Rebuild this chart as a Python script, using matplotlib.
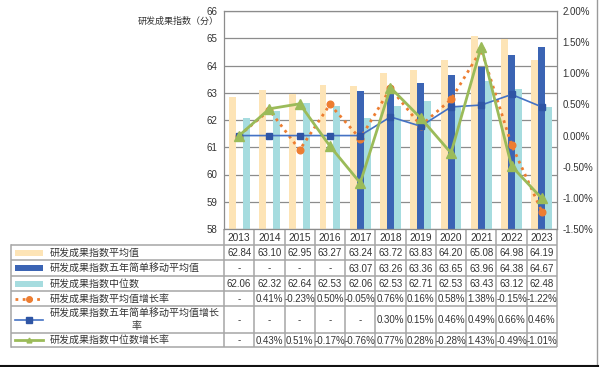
import matplotlib
matplotlib.use("Agg")
import matplotlib.pyplot as plt
import matplotlib.transforms as mtransforms
from matplotlib.lines import Line2D
import numpy as np

plt.rcParams['font.family'] = ['Liberation Sans', 'Noto Sans CJK SC', 'DejaVu Sans']

years = ['2013', '2014', '2015', '2016', '2017', '2018', '2019', '2020', '2021', '2022', '2023']
avg_vals = [62.84, 63.10, 62.95, 63.27, 63.24, 63.72, 63.83, 64.20, 65.08, 64.98, 64.19]
ma_vals = [None, None, None, None, 63.07, 63.26, 63.36, 63.65, 63.96, 64.38, 64.67]
med_vals = [62.06, 62.32, 62.64, 62.53, 62.06, 62.53, 62.71, 62.53, 63.43, 63.12, 62.48]
avg_rate = [None, 0.41, -0.23, 0.50, -0.05, 0.76, 0.16, 0.58, 1.38, -0.15, -1.22]
ma_rate = [None, None, None, None, None, 0.30, 0.15, 0.46, 0.49, 0.66, 0.46]
med_rate = [None, 0.43, 0.51, -0.17, -0.76, 0.77, 0.28, -0.28, 1.43, -0.49, -1.01]

row_labels = ['研发成果指数平均值', '研发成果指数五年简单移动平均值', '研发成果指数中位数',
              '研发成果指数平均值增长率', '研发成果指数五年简单移动平均值增长\n率', '研发成果指数中位数增长率']
y_label = '研发成果指数（分）'
left_ticks = [58, 59, 60, 61, 62, 63, 64, 65, 66]
right_ticks = [-1.5, -1.0, -0.5, 0.0, 0.5, 1.0, 1.5, 2.0]

c_avg = '#FDE4B6'
c_ma = '#3B64B4'
c_med = '#A6DCDF'
c_orange = '#ED7D31'
c_blue = '#4472C4'
c_blue_m = '#2F55A4'
c_green = '#9BBB59'
grid_c = '#8C8C8C'
tab_c = '#A6A6A6'
txt_c = '#333333'

W, H = 600, 367
fig = plt.figure(figsize=(6.0, 3.67), dpi=100)

def fx(px):
    return px / W

def fy(py):
    return 1 - py / H

L, R, T, B = 224, 557, 11, 229
ax = fig.add_axes([fx(L), fy(B), fx(R) - fx(L), fy(T) - fy(B)])
n = len(years)
x = np.arange(n)
bw = 0.23

def nz(v):
    return [np.nan if a is None else a for a in v]

bottom = 58
ax.bar(x - bw, np.array(avg_vals) - bottom, bw, bottom=bottom, color=c_avg, zorder=2)
ax.bar(x, np.array(nz(ma_vals)) - bottom, bw, bottom=bottom, color=c_ma, zorder=2)
ax.bar(x + bw, np.array(med_vals) - bottom, bw, bottom=bottom, color=c_med, zorder=2)
ax.set_xlim(-0.5, n - 0.5)
ax.set_ylim(58, 66)
ax.set_yticks(left_ticks)
ax.set_yticklabels([str(t) for t in left_ticks], fontsize=7, color=txt_c)
ax.tick_params(axis='y', length=0, pad=5)
ax.grid(axis='y', color=grid_c, linewidth=0.9, zorder=0)
ax.set_axisbelow(True)
ax.set_xticks(x)
ax.set_xticklabels(years, fontsize=7.3, color=txt_c)
ax.tick_params(axis='x', length=0, pad=3)
for s in ax.spines.values():
    s.set_color(grid_c)
    s.set_linewidth(0.9)

ax2 = ax.twinx()
ax2.set_ylim(-1.5, 2.0)
ax2.set_yticks(right_ticks)
ax2.set_yticklabels(['%.2f%%' % t for t in right_ticks], fontsize=7, color=txt_c)
ax2.tick_params(axis='y', length=0, pad=4)
for s in ax2.spines.values():
    s.set_visible(False)

def z0(v):
    return [0.0 if a is None else a for a in v]

ax2.plot(x, z0(avg_rate), color=c_orange, linestyle=(0, (1, 1.6)), linewidth=2.0,
         marker='o', markersize=4.8, markerfacecolor=c_orange, markeredgecolor=c_orange, zorder=3)
ax2.plot(x, z0(ma_rate), color=c_blue, linewidth=1.2,
         marker='s', markersize=4.8, markerfacecolor=c_blue_m, markeredgecolor=c_blue_m, zorder=4)
ax2.plot(x, z0(med_rate), color=c_green, linewidth=2.0,
         marker='^', markersize=7, markerfacecolor=c_green, markeredgecolor=c_green, zorder=5)

fig.text(fx(219), fy(21), y_label, fontsize=6.5, ha='right', va='center',
         family=['Noto Sans CJK SC', 'DejaVu Sans'], color=txt_c)

# table
tab = fig.add_axes([0, 0, 1, 1], zorder=-1)
tab.set_xlim(0, W)
tab.set_ylim(H, 0)
tab.axis('off')
tr = mtransforms.blended_transform_factory(ax.transData, tab.transData)

row_edges = [245, 260, 276, 291, 306, 333, 347]
lw_t = 1.1
for i in range(n + 1):
    tab.plot([i - 0.5, i - 0.5], [B, row_edges[0]], color=tab_c, lw=lw_t, transform=tr, solid_capstyle='butt')
    tab.plot([i - 0.5, i - 0.5], [row_edges[0], row_edges[-1]], color=tab_c, lw=lw_t, transform=tr, solid_capstyle='butt')
for yv in row_edges:
    tab.plot([11, R], [yv, yv], color=tab_c, lw=lw_t, solid_capstyle='butt')
tab.plot([11, 11], [row_edges[0], row_edges[-1]], color=tab_c, lw=lw_t)

row_data = [avg_vals, ma_vals, med_vals, avg_rate, ma_rate, med_rate]
is_pct = [False, False, False, True, True, True]
for r in range(6):
    yc = (row_edges[r] + row_edges[r + 1]) / 2
    for i in range(n):
        v = row_data[r][i]
        if v is None:
            s = '-'
        elif is_pct[r]:
            s = '%.2f%%' % v
        else:
            s = '%.2f' % v
        tab.text(i, yc + 0.5, s, transform=tr, ha='center', va='center', fontsize=7, color=txt_c)
    lab = row_labels[r]
    fam = ['Noto Sans CJK SC', 'DejaVu Sans']
    if '\n' in lab:
        l1, l2 = lab.split('\n')
        tab.text(50, yc - 6.5, l1, ha='left', va='center', fontsize=7.2, family=fam, color=txt_c)
        tab.text(137, yc + 6.5, l2, ha='center', va='center', fontsize=7.2, family=fam, color=txt_c)
    else:
        tab.text(50, yc, lab, ha='left', va='center', fontsize=7.2, family=fam, color=txt_c)
    if r < 3:
        col = [c_avg, c_ma, c_med][r]
        tab.add_patch(plt.Rectangle((15, yc - 3), 28, 6, color=col, lw=0))
    elif r == 3:
        tab.plot([15, 43], [yc, yc], color=c_orange, linestyle=(0, (1, 1.6)), lw=2.0)
        tab.plot([29], [yc], marker='o', markersize=4, color=c_orange)
    elif r == 4:
        tab.plot([15, 43], [yc, yc], color=c_blue, lw=1.2)
        tab.plot([29], [yc], marker='s', markersize=4, color=c_blue_m)
    else:
        tab.plot([15, 43], [yc, yc], color=c_green, lw=2.0)
        tab.plot([29], [yc], marker='^', markersize=3.5, color=c_green)

fig.add_artist(Line2D([fx(597), fx(597)], [fy(0), fy(366)], color='#9A9A9A', lw=1.0))
fig.add_artist(Line2D([0, fx(598)], [fy(366), fy(366)], color='#111111', lw=1.5))

fig.savefig('out.png', dpi=100)
